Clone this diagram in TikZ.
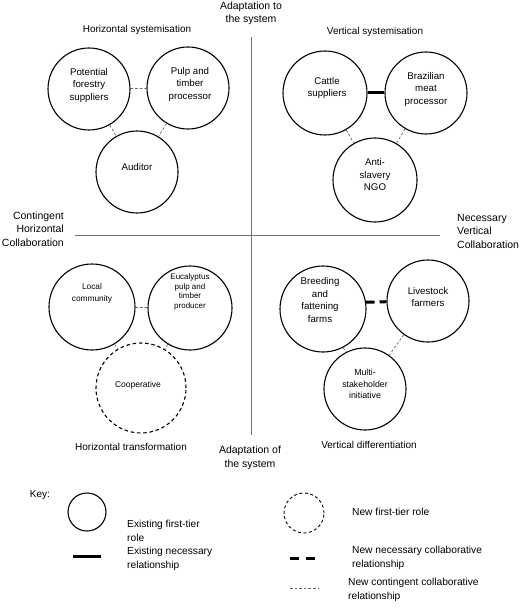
\documentclass[tikz,border=0pt]{standalone}
\usepackage{fontspec}
\setmainfont{Liberation Sans}
\begin{document}
\begin{tikzpicture}[x=1pt,y=-1pt,
  role/.style={circle,draw,line width=1.1pt,inner sep=0pt,minimum size=#1},
  newrole/.style={role=#1,dash pattern=on 3.5pt off 2.8pt},
  rtxt/.style={align=center,inner sep=0pt,font=\fontsize{9.7}{12.5}\selectfont},
  stxt/.style={align=center,inner sep=0pt,font=\fontsize{8}{9.5}\selectfont},
  ttl/.style={align=center,inner sep=0pt,font=\fontsize{10}{12.5}\selectfont},
  axlab/.style={inner sep=0pt,font=\fontsize{10.5}{13.5}\selectfont},
  keytxt/.style={anchor=west,align=left,inner sep=0pt,font=\fontsize{10.2}{14}\selectfont},
  axisline/.style={draw=black!55,line width=0.8pt},
  contingent/.style={draw=black!60,line width=0.7pt,dash pattern=on 2.6pt off 2pt},
  necessary/.style={line width=3pt},
  newnecessary/.style={line width=3pt,dash pattern=on 8.5pt off 5pt}]
\useasboundingbox (0,0) rectangle (520,612);

% axes
\coordinate (vtop) at (251,37);
\coordinate (vbot) at (251,435);
\coordinate (hleft) at (75,235);
\coordinate (hright) at (440,235);
\draw[axisline] (vtop) -- (vbot);
\draw[axisline] (hleft) -- (hright);

\node[axlab,align=center] (axtop) at (251,13.5) {Adaptation to\\the system};
\node[axlab,align=center] (axbot) at (250,458) {Adaptation of\\the system};
\node[axlab,align=right,anchor=east] (axleft) at (64,229) {Contingent\\Horizontal\\Collaboration};
\node[axlab,align=left,anchor=west] (axright) at (457,231) {Necessary\\Vertical\\Collaboration};

% quadrant titles
\node[ttl] (q1) at (137,30) {Horizontal systemisation};
\node[ttl] (q2) at (375,32) {Vertical systemisation};
\node[ttl] (q3) at (131,447) {Horizontal transformation};
\node[ttl] (q4) at (369,445) {Vertical differentiation};

% top-left
\node[role=82pt] (A) at (89,89) {};
\node[role=82pt] (B) at (188,88) {};
\node[role=82pt] (C) at (137,172) {};
\node[rtxt] (tA) at (89,85) {Potential\\forestry\\suppliers};
\node[rtxt] (tB) at (190,84) {Pulp and\\timber\\processor};
\node[rtxt] (tC) at (137,167) {Auditor};
\draw[contingent] (A) -- (B);
\draw[contingent] (A) -- (C);
\draw[contingent] (B) -- (C);

% top-right
\node[role=84pt] (D) at (325,93) {};
\node[role=82pt] (E) at (426,93) {};
\node[role=84pt] (F) at (375,180) {};
\node[rtxt] (tD) at (327,88) {Cattle\\suppliers};
\node[rtxt] (tE) at (426,89) {Brazilian\\meat\\processor};
\node[rtxt] (tF) at (375,175) {Anti-\\slavery\\NGO};
\draw[necessary] (D) -- (E);
\draw[contingent] (D) -- (F);
\draw[contingent] (E) -- (F);

% bottom-left
\node[role=86pt] (G) at (92,307) {};
\node[role=84pt] (H) at (190,308) {};
\node[newrole=90pt] (I) at (141,388) {};
\node[align=center,inner sep=0pt,font=\fontsize{8.3}{12.5}\selectfont] (tG) at (92,293.5) {Local\\community};
\node[stxt] (tH) at (190,292) {Eucalyptus\\pulp and\\timber\\producer};
\node[align=center,inner sep=0pt,font=\fontsize{8.5}{10}\selectfont] (tI) at (138,385) {Cooperative};
\draw[contingent] (G) -- (H);
\draw[contingent] (G) -- (I);
\draw[contingent] (H) -- (I);

% bottom-right
\node[role=86pt] (J) at (323,309) {};
\node[role=82pt] (K) at (428,301) {};
\node[role=82pt] (L) at (365,389) {};
\node[rtxt] (tJ) at (320,300) {Breeding\\and\\fattening\\farms};
\node[rtxt] (tK) at (428,297) {Livestock\\farmers};
\node[align=center,inner sep=0pt,font=\fontsize{8.8}{11.5}\selectfont] (tL) at (365,384) {Multi-\\stakeholder\\initiative};
\draw[newnecessary] (J.9) -- (K.181);
\draw[contingent] (J) -- (L);
\draw[contingent] (K) -- (L);

% key
\node[ttl] (key) at (40,495) {Key:};
\node[role=38pt] (k1) at (87,512) {};
\node[keytxt] (k1t) at (127,531) {Existing first-tier\\role};
\coordinate (k2a) at (73,556);
\coordinate (k2b) at (101,556);
\draw[necessary] (k2a) -- (k2b);
\node[keytxt] (k2t) at (127,559) {Existing necessary\\relationship};
\node[newrole=40pt,line width=0.9pt,dash pattern=on 3pt off 2.5pt] (k3) at (304,513) {};
\node[keytxt] (k3t) at (352,512) {New first-tier role};
\coordinate (k4a) at (290,558);
\coordinate (k4b) at (315,558);
\draw[newnecessary,dash pattern=on 9pt off 7pt] (k4a) -- (k4b);
\node[keytxt] (k4t) at (352,558) {New necessary collaborative\\relationship};
\coordinate (k5a) at (290,588);
\coordinate (k5b) at (318,588);
\draw[contingent] (k5a) -- (k5b);
\node[keytxt] (k5t) at (348,590) {New contingent collaborative\\relationship};
\end{tikzpicture}
\end{document}
